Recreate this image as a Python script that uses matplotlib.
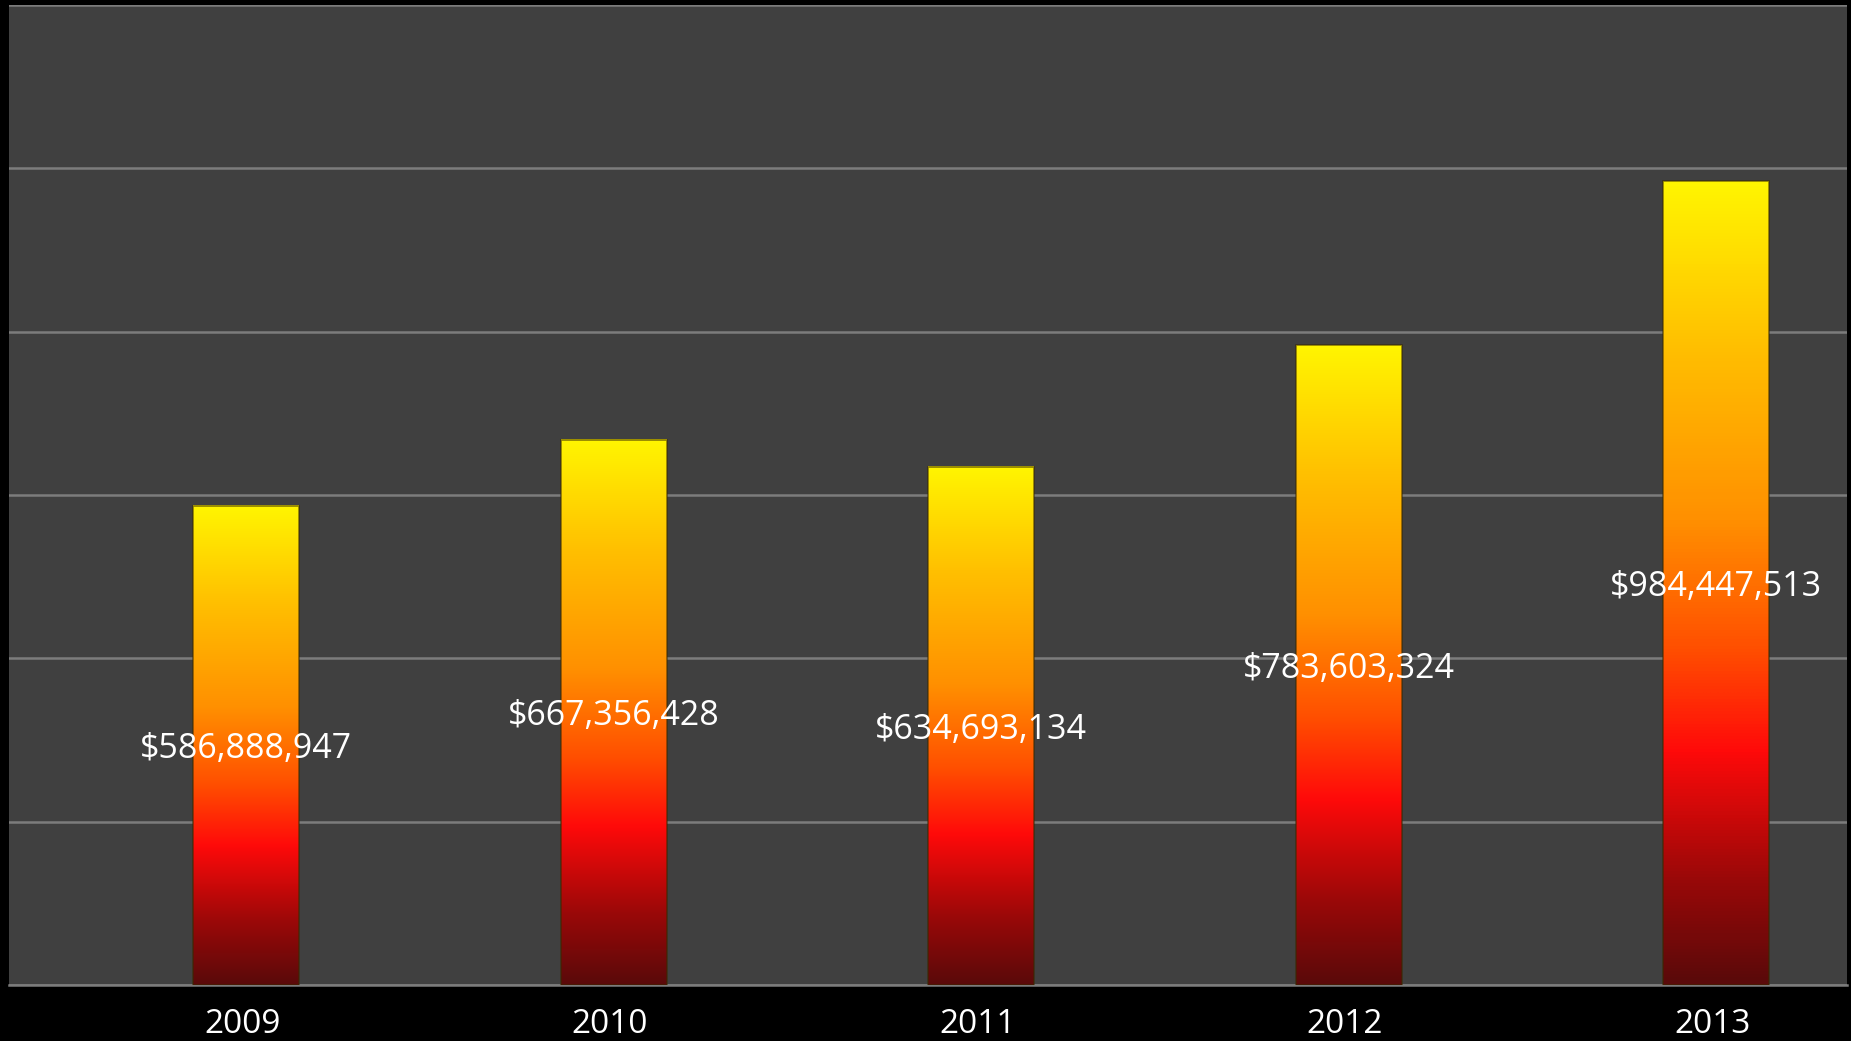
import matplotlib
matplotlib.use("Agg")
import matplotlib.pyplot as plt
import numpy as np
from matplotlib.colors import LinearSegmentedColormap
from matplotlib.patches import Rectangle

years = ["2009", "2010", "2011", "2012", "2013"]
revenue = [586888947, 667356428, 634693134, 783603324, 984447513]

# yellow -> orange -> red -> dark red, top to bottom of each bar
fire = LinearSegmentedColormap.from_list("fire", [
    (0.00, "#5a0a0a"),
    (0.13, "#9a0808"),
    (0.29, "#ff0a0a"),
    (0.42, "#ff5000"),
    (0.58, "#ff9000"),
    (0.80, "#ffc000"),
    (1.00, "#fff500"),
])

W, H, DPI = 1851, 1041, 100
fig = plt.figure(figsize=(W / DPI, H / DPI), dpi=DPI, facecolor="black")
ax = fig.add_axes([9 / W, (H - 985) / H, 1838 / W, 980 / H])
ax.set_facecolor("#404040")

x = np.arange(len(years))
width = 0.288
ax.set_xlim(-0.645, len(years) - 1 + 0.356)
ax.set_ylim(0, 1.2e9)

grad = np.linspace(0, 1, 256).reshape(-1, 1)
for xi, v in zip(x, revenue):
    x0 = xi - width / 2
    ax.imshow(grad, cmap=fire, origin="lower", aspect="auto",
              extent=[x0, x0 + width, 0, v], zorder=3, interpolation="bicubic")
    ax.add_patch(Rectangle((x0, 0), width, v, fill=False,
                           edgecolor="#3a2a00", linewidth=1.2, alpha=0.6, zorder=4))
    ax.text(xi, v / 2, f"${v:,}", color="white", fontsize=24.5,
            family="Open Sans", ha="center", va="center_baseline", zorder=5)

ax.set_yticks(np.arange(0, 1.21e9, 2e8))
ax.yaxis.grid(True, color="#7c7c7c", linewidth=1.8)
ax.set_axisbelow(True)
ax.tick_params(axis="y", left=False, labelleft=False)
ax.set_xticks(x - 0.01)
ax.set_xticklabels(years, color="white", fontsize=24, family="Open Sans")
ax.tick_params(axis="x", bottom=False, pad=13)
for side in ("left", "right", "top"):
    ax.spines[side].set_visible(False)
ax.spines["bottom"].set_color("#7c7c7c")
ax.spines["bottom"].set_linewidth(1.8)

fig.savefig("out.png", dpi=DPI, facecolor="black")
